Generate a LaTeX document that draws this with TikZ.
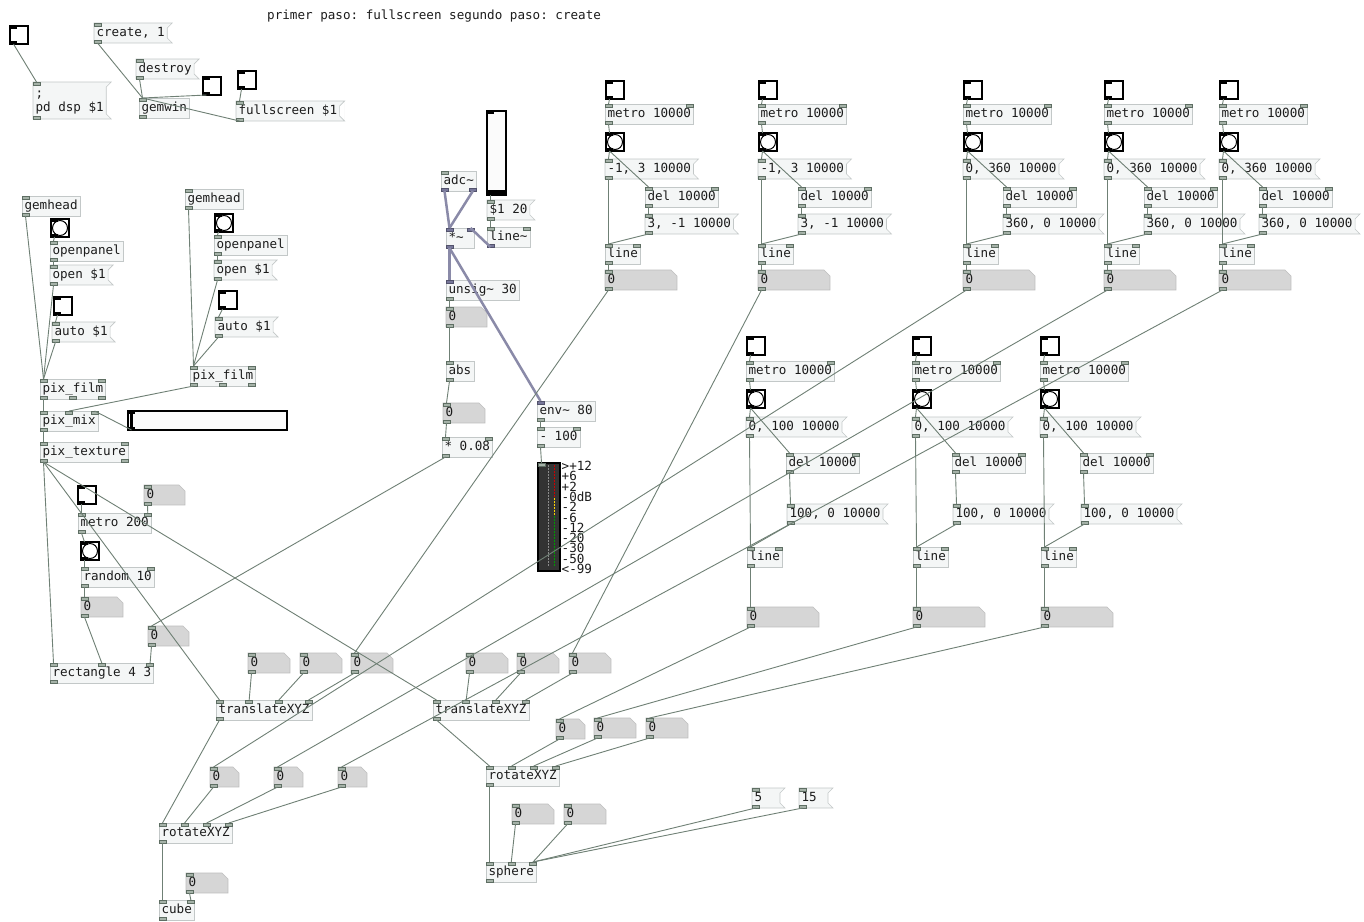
\documentclass[tikz,border=0pt]{standalone}
\usepackage{fontspec}
\setmonofont{DejaVu Sans Mono}
\usepackage{xcolor}
\usepackage{tikz}
\usetikzlibrary{calc}

\definecolor{boxfill}{HTML}{F4F6F6}
\definecolor{boxline}{HTML}{C3C8C8}
\definecolor{wirecol}{HTML}{6F8075}
\definecolor{sigcol}{HTML}{8A8AA8}
\definecolor{portfill}{HTML}{A5B2A8}
\definecolor{portline}{HTML}{5E6E63}
\definecolor{sigport}{HTML}{77779A}
\definecolor{numfill}{HTML}{D6D6D6}
\definecolor{numline}{HTML}{BDBDBD}
\definecolor{txtcol}{HTML}{1C1C1C}

\newcommand{\pdfont}{\ttfamily\fontsize{12.6}{14}\selectfont}

% inlets / outlets, with a coordinate (name-i1, name-o1, ...) at each
\newcommand{\inlets}[3][port]{%
  \foreach \k in {1,...,#3}{%
    \pgfmathsetmacro\f{(\k-1)/max(#3-1,1)}%
    \path[#1] ($(#2.north west)!\f!(#2.north east)+(-7*\f,0)$) rectangle ++(7,3);
    \coordinate (#2-i\k) at ($(#2.north west)!\f!(#2.north east)+(3.5-7*\f,0)$);
  }}
\newcommand{\outlets}[3][port]{%
  \foreach \k in {1,...,#3}{%
    \pgfmathsetmacro\f{(\k-1)/max(#3-1,1)}%
    \path[#1] ($(#2.south west)!\f!(#2.south east)+(-7*\f,0)$) rectangle ++(7,-3);
    \coordinate (#2-o\k) at ($(#2.south west)!\f!(#2.south east)+(3.5-7*\f,0)$);
  }}
\newcommand{\ports}[4][port]{\inlets[#1]{#2}{#3}\outlets[#1]{#2}{#4}}

% message box flag and number box corner
\newcommand{\msgflag}[1]{%
  \fill[white] (#1.north east) -- ([shift={(-5pt,-5pt)}]#1.north east) -- ([shift={(-5pt,5pt)}]#1.south east) -- (#1.south east) -- cycle;
  \draw[frame] (#1.north west) -- (#1.north east) -- ([shift={(-5pt,-5pt)}]#1.north east) -- ([shift={(-5pt,5pt)}]#1.south east) -- (#1.south east) -- (#1.south west) -- cycle;}
\newcommand{\numframe}[1]{%
  \fill[white] ([xshift=-6pt]#1.north east) -- (#1.north east) -- ([yshift=-6pt]#1.north east) -- cycle;
  \draw[draw=numline, line width=0.6pt] (#1.north west) -- ([xshift=-6pt]#1.north east) -- ([yshift=-6pt]#1.north east) -- (#1.south east) -- (#1.south west) -- cycle;}

\begin{document}
\begin{tikzpicture}[x=1pt, y=-1pt,
    obj/.style={draw=boxline, fill=boxfill, line width=0.6pt, anchor=north west, outer sep=0pt,
                inner xsep=2.5pt, inner ysep=0pt, minimum height=20pt, text height=9.5pt, text depth=2.5pt,
                font=\pdfont, text=txtcol},
    msg/.style={obj, draw=none, execute at end node={\hspace{5pt}}},
    num/.style={obj, draw=none, fill=numfill, text width=#1pt, align=left},
    frame/.style={draw=boxline, line width=0.6pt},
    tgl/.style={draw=black, line width=1.5pt, fill=white, minimum size=18pt, inner sep=0pt,
                anchor=north west, outer sep=0pt},
    bng/.style={tgl, path picture={\draw[line width=1pt] (path picture bounding box.center) circle (7.5pt);}},
    sld/.style={draw=black, line width=1.2pt, fill=white!97!gray, inner sep=0pt, anchor=north west, outer sep=0pt},
    vubox/.style={draw=black, line width=1.2pt, fill=black!80, inner sep=0pt, anchor=north west,
                  outer sep=0pt, minimum width=22pt, minimum height=108pt},
    vulab/.style={anchor=west, inner sep=0pt, font=\ttfamily\fontsize{12.6}{12}\selectfont, text=txtcol},
    cmt/.style={anchor=north west, inner sep=0pt, text height=9.5pt, text depth=2.5pt, font=\pdfont, text=txtcol},
    port/.style={fill=portfill, draw=portline, line width=0.4pt},
    sport/.style={fill=sigport, draw=sigport!70!black, line width=0.4pt},
    kport/.style={fill=black},
    wire/.style={draw=wirecol, line width=0.9pt},
    sig/.style={draw=sigcol, line width=2.5pt}
  ]
  \useasboundingbox (0,0) rectangle (1364,921);
  \fill[white] (0,0) rectangle (1364,921);

  % window and dsp
  \node[cmt] (note) at (267,10) {primer paso: fullscreen segundo paso: create};
  \node[tgl] (tgDsp) at (10,26) {};
  \node[msg] (mCreate) at (94,23) {create, 1};
  \node[msg] (mDestroy) at (136,59) {destroy};
  \node[msg, align=left, minimum height=37pt, text height=23.5pt] (mDsp) at (33,82) {;\\pd dsp \$1};
  \node[obj] (gemwin) at (139,98) {gemwin};
  \node[tgl] (tgWin) at (203,77) {};
  \node[tgl] (tgFull) at (238,71) {};
  \node[msg] (mFull) at (236,101) {fullscreen \$1};
  \foreach \m in {mCreate,mDestroy,mDsp,mFull} {\msgflag{\m}}
  \ports[kport]{tgDsp}{1}{1}
  \ports[kport]{tgWin}{1}{1}
  \ports[kport]{tgFull}{1}{1}
  \ports{mCreate}{1}{1}
  \ports{mDestroy}{1}{1}
  \ports{mDsp}{1}{1}
  \ports{gemwin}{1}{1}
  \ports{mFull}{1}{1}

  % films
  \node[obj] (gem1) at (22,196) {gemhead};
  \node[bng] (bng1) at (51,219) {};
  \node[obj] (opn1) at (50,241) {openpanel};
  \node[msg] (mOpen1) at (50,265) {open \$1};
  \node[tgl] (tgAuto1) at (54,297) {};
  \node[msg] (mAuto1) at (52,322) {auto \$1};
  \node[obj] (film1) at (40,379) {pix\_film};
  \node[obj] (gem2) at (185,189) {gemhead};
  \node[bng] (bng2) at (215,214) {};
  \node[obj] (opn2) at (214,235) {openpanel};
  \node[msg] (mOpen2) at (214,260) {open \$1};
  \node[tgl] (tgAuto2) at (219,291) {};
  \node[msg] (mAuto2) at (215,317) {auto \$1};
  \node[obj] (film2) at (190,366) {pix\_film};
  \node[obj] (mix) at (40,411) {pix\_mix};
  \node[sld, minimum width=159pt, minimum height=19pt] (hsl) at (128,411) {};
  \fill ([xshift=2pt]hsl.north west) rectangle ([xshift=5pt]hsl.south west);
  \node[obj] (tex) at (40,442) {pix\_texture};
  \foreach \n in {1,2}{
    \msgflag{mOpen\n}
    \msgflag{mAuto\n}
    \ports{gem\n}{1}{1}
    \ports[kport]{bng\n}{1}{1}
    \ports{opn\n}{1}{1}
    \ports{mOpen\n}{1}{1}
    \ports[kport]{tgAuto\n}{1}{1}
    \ports{mAuto\n}{1}{1}
    \ports{film\n}{2}{3}
  }
  \ports{mix}{3}{1}
  \ports[kport]{hsl}{1}{1}
  \ports{tex}{2}{2}

  % rectangle
  \node[tgl] (tgMet) at (78,486) {};
  \node[num=36] (nbMet) at (144,485) {0};
  \node[obj] (met) at (78,513) {metro 200};
  \node[bng] (bng3) at (81,542) {};
  \node[obj] (rnd) at (81,567) {random 10};
  \node[num=37] (nbRnd) at (81,597) {0};
  \node[num=36] (nbRect) at (148,626) {0};
  \node[obj] (rect) at (50,663) {rectangle 4 3};
  \foreach \m in {nbMet,nbRnd,nbRect} {\numframe{\m}\ports{\m}{1}{1}}
  \ports[kport]{tgMet}{1}{1}
  \ports{met}{2}{1}
  \ports[kport]{bng3}{1}{1}
  \ports{rnd}{2}{1}
  \ports{rect}{3}{1}

  % audio input
  \node[sld, minimum width=19pt, minimum height=84pt] (vsl) at (487,111) {};
  \fill ([yshift=1pt]vsl.south west) rectangle ([yshift=5pt]vsl.south east);
  \node[obj] (adc) at (441,171) {adc\textasciitilde};
  \node[msg] (mRamp) at (487,200) {\$1 20};
  \node[obj] (lin) at (487,227) {line\textasciitilde};
  \node[obj, text width=23pt] (mult) at (446,228) {*\textasciitilde};
  \node[obj] (unsig) at (446,280) {unsig\textasciitilde{} 30};
  \node[num=36] (nbUns) at (446,307) {0};
  \node[obj, text width=23pt] (absv) at (446,361) {abs};
  \node[num=37] (nbAbs) at (443,403) {0};
  \node[obj] (mul) at (442,437) {* 0.08};
  \node[obj] (env) at (537,401) {env\textasciitilde{} 80};
  \node[obj] (sub) at (537,427) {- 100};
  \node[vubox] (vu) at (538,463) {};
  \foreach \i in {0,...,33} {\fill[black!45] ($(vu.north west)+(10,2+3*\i)$) rectangle ++(1,1.5);}
  \foreach \i in {0,...,10} {\fill[red!80!black] ($(vu.north east)+(-6,2+3*\i)$) rectangle ++(1.2,1.5);}
  \foreach \i in {11,...,16} {\fill[yellow!70!orange] ($(vu.north east)+(-6,2+3*\i)$) rectangle ++(1.2,1.5);}
  \foreach \i in {17,...,33} {\fill[green!60!black] ($(vu.north east)+(-6,2+3*\i)$) rectangle ++(1.2,1.5);}
  \foreach \t [count=\c] in {>+12,+6,+2,-0dB,-2,-6,-12,-20,-30,-50,<-99}
    \node[vulab] (vul\c) at ($(vu.north east)+(1.5,{3+10.3*\c-10.3})$) {\t};
  \msgflag{mRamp}
  \numframe{nbUns}
  \numframe{nbAbs}
  \ports[kport]{vsl}{1}{1}
  \inlets{adc}{1}
  \outlets[sport]{adc}{2}
  \ports{mRamp}{1}{1}
  \inlets{lin}{2}
  \outlets[sport]{lin}{1}
  \ports[sport]{mult}{2}{1}
  \inlets[sport]{unsig}{1}
  \outlets{unsig}{1}
  \ports{nbUns}{1}{1}
  \ports{absv}{1}{1}
  \ports{nbAbs}{1}{1}
  \ports{mul}{2}{1}
  \inlets[sport]{env}{1}
  \outlets{env}{1}
  \ports{sub}{2}{1}
  \inlets{vu}{1}

  % ramps
  \foreach \g/\bx/\lo/\hi in {A/605/-1/3, B/758/-1/3, C/963/0/360, D/1104/0/360, E/1219/0/360}{
    \node[tgl] (tg\g) at (\bx+1,81) {};
    \node[obj] (met\g) at (\bx,104) {metro 10000};
    \node[bng] (bng\g) at (\bx+1,133) {};
    \node[msg] (go\g) at (\bx,159) {\lo, \hi{} 10000};
    \node[obj] (del\g) at (\bx+40,187) {del 10000};
    \node[msg] (back\g) at (\bx+40,214) {\hi, \lo{} 10000};
    \node[obj] (ln\g) at (\bx,244) {line};
    \node[num=67] (nb\g) at (\bx,270) {0};
  }
  \foreach \g/\bx in {F/746, G/912, H/1040}{
    \node[tgl] (tg\g) at (\bx+1,337) {};
    \node[obj] (met\g) at (\bx,361) {metro 10000};
    \node[bng] (bng\g) at (\bx+1,390) {};
    \node[msg] (go\g) at (\bx,417) {0, 100 10000};
    \node[obj] (del\g) at (\bx+40,453) {del 10000};
    \node[msg] (back\g) at (\bx+41,504) {100, 0 10000};
    \node[obj] (ln\g) at (\bx+1,547) {line};
    \node[num=67] (nb\g) at (\bx+1,607) {0};
  }
  \foreach \g in {A,B,C,D,E,F,G,H}{
    \msgflag{go\g}
    \msgflag{back\g}
    \numframe{nb\g}
    \ports[kport]{tg\g}{1}{1}
    \ports{met\g}{2}{1}
    \ports[kport]{bng\g}{1}{1}
    \ports{go\g}{1}{1}
    \ports{del\g}{2}{1}
    \ports{back\g}{1}{1}
    \ports{ln\g}{2}{1}
    \ports{nb\g}{1}{1}
  }

  % transforms
  \node[num=37] (nA1) at (248,653) {0};
  \node[num=37] (nA2) at (300,653) {0};
  \node[num=37] (nA3) at (351,653) {0};
  \node[num=37] (nB1) at (466,653) {0};
  \node[num=37] (nB2) at (517,653) {0};
  \node[num=37] (nB3) at (569,653) {0};
  \node[obj] (trA) at (216,700) {translateXYZ};
  \node[obj] (trB) at (433,700) {translateXYZ};
  \node[num=24] (rA1) at (210,767) {0};
  \node[num=24] (rA2) at (274,767) {0};
  \node[num=24] (rA3) at (338,767) {0};
  \node[obj] (rotA) at (159,823) {rotateXYZ};
  \node[num=37] (nbCube) at (186,873) {0};
  \node[obj] (cube) at (159,900) {cube};
  \node[num=24] (rB1) at (556,719) {0};
  \node[num=37] (rB2) at (594,718) {0};
  \node[num=37] (rB3) at (646,718) {0};
  \node[obj] (rotB) at (486,766) {rotateXYZ};
  \node[num=37] (sp1) at (512,804) {0};
  \node[num=37] (sp2) at (564,804) {0};
  \node[obj] (sphere) at (486,862) {sphere};
  \node[msg, text width=28pt] (mFive) at (752,788) {5};
  \node[msg, text width=29pt] (mFifteen) at (799,788) {15};
  \foreach \m in {nA1,nA2,nA3,nB1,nB2,nB3,rA1,rA2,rA3,rB1,rB2,rB3,nbCube,sp1,sp2} {\numframe{\m}\ports{\m}{1}{1}}
  \msgflag{mFive}
  \msgflag{mFifteen}
  \ports{mFive}{1}{1}
  \ports{mFifteen}{1}{1}
  \ports{trA}{4}{1}
  \ports{trB}{4}{1}
  \ports{rotA}{4}{1}
  \ports{rotB}{4}{1}
  \ports{cube}{2}{1}
  \ports{sphere}{3}{1}

  % wires
  \draw[wire] (tgDsp-o1) -- (mDsp-i1);
  \draw[wire] (mCreate-o1) -- (gemwin-i1);
  \draw[wire] (mDestroy-o1) -- (gemwin-i1);
  \draw[wire] (tgWin-o1) -- (gemwin-i1);
  \draw[wire] (mFull-o1) -- (gemwin-i1);
  \draw[wire] (tgFull-o1) -- (mFull-i1);
  \foreach \n in {1,2}{
    \draw[wire] (bng\n-o1) -- (opn\n-i1);
    \draw[wire] (opn\n-o1) -- (mOpen\n-i1);
    \draw[wire] (tgAuto\n-o1) -- (mAuto\n-i1);
    \draw[wire] (gem\n-o1) -- (film\n-i1);
    \draw[wire] (mOpen\n-o1) -- (film\n-i1);
    \draw[wire] (mAuto\n-o1) -- (film\n-i1);
  }
  \draw[wire] (film1-o1) -- (mix-i1);
  \draw[wire] (film2-o1) -- (mix-i2);
  \draw[wire] (hsl-o1) -- (mix-i3);
  \draw[wire] (mix-o1) -- (tex-i1);
  \draw[wire] (tex-o1) -- (rect-i1);
  \draw[wire] (tex-o1) -- (trA-i1);
  \draw[wire] (tex-o1) -- (trB-i1);
  \draw[wire] (tgMet-o1) -- (met-i1);
  \draw[wire] (nbMet-o1) -- (met-i2);
  \draw[wire] (met-o1) -- (bng3-i1);
  \draw[wire] (bng3-o1) -- (rnd-i1);
  \draw[wire] (rnd-o1) -- (nbRnd-i1);
  \draw[wire] (nbRnd-o1) -- (rect-i2);
  \draw[wire] (nbRect-o1) -- (rect-i3);
  \draw[wire] (mul-o1) -- (nbRect-i1);

  \draw[sig] (adc-o1) -- (mult-i1);
  \draw[sig] (adc-o2) -- (mult-i1);
  \draw[sig] (lin-o1) -- (mult-i2);
  \draw[sig] (mult-o1) -- (unsig-i1);
  \draw[sig] (mult-o1) -- (env-i1);
  \draw[wire] (vsl-o1) -- (mRamp-i1);
  \draw[wire] (mRamp-o1) -- (lin-i1);
  \draw[wire] (unsig-o1) -- (nbUns-i1);
  \draw[wire] (nbUns-o1) -- (absv-i1);
  \draw[wire] (absv-o1) -- (nbAbs-i1);
  \draw[wire] (nbAbs-o1) -- (mul-i1);
  \draw[wire] (env-o1) -- (sub-i1);
  \draw[wire] (sub-o1) -- (vu-i1);

  \foreach \g in {A,B,C,D,E,F,G,H}{
    \draw[wire] (tg\g-o1) -- (met\g-i1);
    \draw[wire] (met\g-o1) -- (bng\g-i1);
    \draw[wire] (bng\g-o1) -- (go\g-i1);
    \draw[wire] (bng\g-o1) -- (del\g-i1);
    \draw[wire] (del\g-o1) -- (back\g-i1);
    \draw[wire] (go\g-o1) -- (ln\g-i1);
    \draw[wire] (back\g-o1) -- (ln\g-i1);
    \draw[wire] (ln\g-o1) -- (nb\g-i1);
  }
  \draw[wire] (nbA-o1) -- (nA3-i1);
  \draw[wire] (nbB-o1) -- (nB3-i1);
  \draw[wire] (nbC-o1) -- (rA1-i1);
  \draw[wire] (nbD-o1) -- (rA2-i1);
  \draw[wire] (nbE-o1) -- (rA3-i1);
  \draw[wire] (nbF-o1) -- (rB1-i1);
  \draw[wire] (nbG-o1) -- (rB2-i1);
  \draw[wire] (nbH-o1) -- (rB3-i1);

  \foreach \n/\m in {1/2,2/3,3/4}{
    \draw[wire] (nA\n-o1) -- (trA-i\m);
    \draw[wire] (nB\n-o1) -- (trB-i\m);
    \draw[wire] (rA\n-o1) -- (rotA-i\m);
    \draw[wire] (rB\n-o1) -- (rotB-i\m);
  }
  \draw[wire] (trA-o1) -- (rotA-i1);
  \draw[wire] (trB-o1) -- (rotB-i1);
  \draw[wire] (rotA-o1) -- (cube-i1);
  \draw[wire] (nbCube-o1) -- (cube-i2);
  \draw[wire] (rotB-o1) -- (sphere-i1);
  \draw[wire] (sp1-o1) -- (sphere-i2);
  \draw[wire] (sp2-o1) -- (sphere-i3);
  \draw[wire] (mFive-o1) -- (sphere-i3);
  \draw[wire] (mFifteen-o1) -- (sphere-i3);
\end{tikzpicture}
\end{document}
